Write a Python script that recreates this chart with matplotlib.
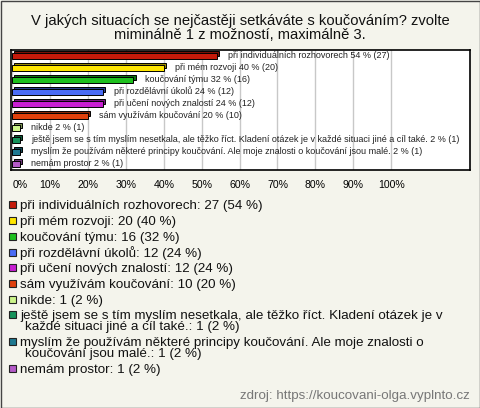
import textwrap
import matplotlib
matplotlib.use("Agg")
import matplotlib.pyplot as plt
from matplotlib.patches import Rectangle

plt.rcParams['font.family'] = ['Liberation Sans', 'DejaVu Sans']

title_lines = ["V jakých situacích se nejčastěji setkáváte s koučováním? zvolte",
               "miminálně 1 z možností, maximálně 3."]
categories = [
    "při individuálních rozhovorech",
    "při mém rozvoji",
    "koučování týmu",
    "při rozdělávní úkolů",
    "při učení nových znalostí",
    "sám využívám koučování",
    "nikde",
    "ještě jsem se s tím myslím nesetkala, ale těžko říct. Kladení otázek je v každé situaci jiné a cíl také.",
    "myslím že používám některé principy koučování. Ale moje znalosti o koučování jsou malé.",
    "nemám prostor",
]
percents = [54, 40, 32, 24, 24, 20, 2, 2, 2, 2]
counts = [27, 20, 16, 12, 12, 10, 1, 1, 1, 1]
colors = ["#c41a0a", "#ffe600", "#1ec01e", "#4a6cf5", "#c81ed2",
          "#e0400c", "#ccf58a", "#16925a", "#1e7890", "#b45ac8"]
xticks = [0, 10, 20, 30, 40, 50, 60, 70, 80, 90, 100]
source = "zdroj: https://koucovani-olga.vyplnto.cz"

W, H = 480, 408
fig = plt.figure(figsize=(W / 100, H / 100), dpi=100)
fig.patch.set_facecolor("#f4f4ec")


def fx(x):
    return x / W


def fy(y):
    return 1 - y / H


# outer border
fig.patches.append(Rectangle((0.5 / W, 0.5 / H), 1 - 1 / W, 1 - 1 / H, transform=fig.transFigure,
                             fill=False, edgecolor="#444444", linewidth=1))

ty = 25
for line in title_lines:
    fig.text(0.5, fy(ty), line, ha="center", va="baseline", fontsize=10.6, color="#111111")
    ty += 14

# axes
ax_l, ax_r, ax_t, ax_b = 11, 470, 50, 170
ax = fig.add_axes([fx(ax_l), fy(ax_b), fx(ax_r - ax_l), (ax_b - ax_t) / H])
ax.set_facecolor("white")
n = len(categories)
xmax = 100 * (ax_r - ax_l) / 380.0
ax.set_xlim(-0.3, xmax)
ax.set_ylim(n - 0.5, -0.5)
for s in ax.spines.values():
    s.set_linewidth(1.2)
    s.set_color("black")
ax.set_xticks(xticks)
ax.set_xticklabels([f"{t}%" for t in xticks], fontsize=7.6)
ax.get_xticklabels()[0].set_horizontalalignment("left")
ax.tick_params(axis="x", length=0, pad=7)
ax.set_yticks([])
ax.grid(axis="x", color="#c8c8c8", linewidth=1)
ax.set_axisbelow(True)

dx = 0.55
dy = 0.17
h = 0.42
for i, (cat, p, c, col) in enumerate(zip(categories, percents, counts, colors)):
    rgb = matplotlib.colors.to_rgb(col)
    dark = tuple(v * 0.6 for v in rgb)
    ax.barh(i - dy, p, left=dx, height=h, color=dark, edgecolor="black", linewidth=0.7, zorder=2)
    ax.barh(i, p, left=0, height=h, color=col, edgecolor="black", linewidth=0.7, zorder=3)
    ax.text(p + 3.0, i - 0.05, f"{cat} {p} % ({c})", va="center", ha="left",
            fontsize=6.5, color="#222222", zorder=4)

# legend
yb = 209.5
for cat, p, c, col in zip(categories, percents, counts, colors):
    lines = textwrap.wrap(f"{cat}: {c} ({p} %)", 74)
    fig.patches.append(Rectangle((fx(9), fy(yb - 1)), 7 / W, 7 / H, transform=fig.transFigure,
                                 facecolor=col, edgecolor="#222222", linewidth=0.8))
    for k, line in enumerate(lines):
        fig.text(fx(20 + (5 if k else 0)), fy(yb + 11 * k), line, ha="left", va="baseline",
                 fontsize=9.6, color="#111111")
    yb += 15.7 + 11 * (len(lines) - 1)

fig.text(fx(470), fy(399), source, ha="right", va="baseline", fontsize=9.6, color="#777777")

fig.savefig("out.png", dpi=100, facecolor=fig.get_facecolor())
